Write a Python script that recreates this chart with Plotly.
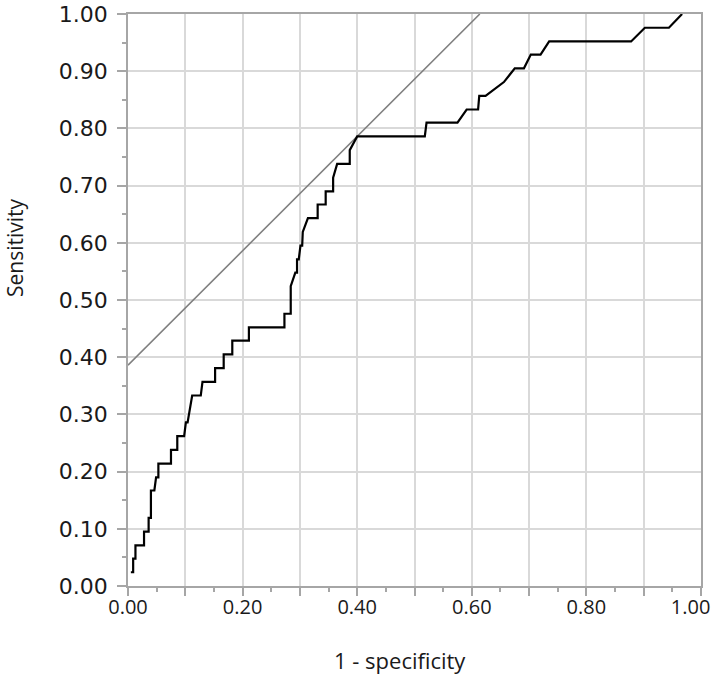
import plotly.graph_objects as go

# ROC curve vertices (1 - specificity, sensitivity)
fpr = [0.005, 0.009, 0.009, 0.013, 0.013, 0.028, 0.028, 0.036, 0.036, 0.040,
       0.040, 0.046, 0.049, 0.053, 0.053, 0.075, 0.075, 0.086, 0.086, 0.098,
       0.101, 0.104, 0.112, 0.127, 0.130, 0.152, 0.152, 0.167, 0.167, 0.182,
       0.182, 0.211, 0.211, 0.273, 0.273, 0.284, 0.284, 0.292, 0.295, 0.295,
       0.298, 0.301, 0.304, 0.305, 0.314, 0.331, 0.331, 0.345, 0.345, 0.358,
       0.358, 0.365, 0.387, 0.387, 0.400, 0.518, 0.521, 0.575, 0.591, 0.611,
       0.613, 0.624, 0.656, 0.675, 0.691, 0.703, 0.720, 0.735, 0.878, 0.902,
       0.944, 0.967]
tpr = [0.024, 0.024, 0.048, 0.048, 0.071, 0.071, 0.095, 0.095, 0.119, 0.119,
       0.167, 0.167, 0.190, 0.190, 0.214, 0.214, 0.238, 0.238, 0.262, 0.262,
       0.286, 0.286, 0.333, 0.333, 0.357, 0.357, 0.381, 0.381, 0.405, 0.405,
       0.429, 0.429, 0.452, 0.452, 0.476, 0.476, 0.524, 0.548, 0.548, 0.571,
       0.571, 0.595, 0.595, 0.619, 0.643, 0.643, 0.667, 0.667, 0.690, 0.690,
       0.714, 0.738, 0.738, 0.762, 0.786, 0.786, 0.810, 0.810, 0.833, 0.833,
       0.857, 0.857, 0.881, 0.905, 0.905, 0.929, 0.929, 0.952, 0.952, 0.976,
       0.976, 1.000]

# tangent line (slope 1) touching the curve at the optimal cut-off
tangent_x = [0.0, 0.614]
tangent_y = [0.386, 1.0]

x_ticks = [i / 10 for i in range(11)]
x_labels = [f"{v:.2f}" if i % 2 == 0 else "" for i, v in enumerate(x_ticks)]
x_labels[-1] = "1.00\u00a0\u00a0\u00a0\u00a0"  # nudge last label inside the page
y_ticks = [i / 10 for i in range(11)]
y_labels = [f"{v:.2f}" for v in y_ticks]

AXIS_GREY = "#a6a6a6"
GRID_GREY = "#d9d9d9"

fig = go.Figure()
fig.add_trace(go.Scatter(
    x=tangent_x, y=tangent_y, mode="lines",
    line=dict(color="#808080", width=1.6),
    showlegend=False, hoverinfo="skip",
))
fig.add_trace(go.Scatter(
    x=fpr, y=tpr, mode="lines",
    line=dict(color="black", width=2.2),
    showlegend=False,
))

fig.update_layout(
    width=714, height=678,
    margin=dict(l=128, r=13, t=14, b=92),
    paper_bgcolor="white", plot_bgcolor="white",
    xaxis=dict(
        range=[0, 1], tickvals=x_ticks, ticktext=x_labels, automargin=False,
        showgrid=True, gridcolor=GRID_GREY, gridwidth=1.5, zeroline=False,
        showline=True, linecolor=AXIS_GREY, linewidth=1.5, mirror=True,
        ticks="outside", ticklen=8, tickcolor=AXIS_GREY, tickwidth=1.5,
        minor=dict(dtick=0.05, ticks="outside", ticklen=4,
                   tickcolor=AXIS_GREY, tickwidth=1.5, showgrid=False),
        tickfont=dict(family="Open Sans", size=20, color="#1a1a1a"),
        ticklabeloverflow="allow", ticklabelstandoff=-6,
    ),
    yaxis=dict(
        range=[0, 1], tickvals=y_ticks, ticktext=y_labels, automargin=False,
        showgrid=True, gridcolor=GRID_GREY, gridwidth=1.5, zeroline=False,
        showline=True, linecolor=AXIS_GREY, linewidth=1.5, mirror=True,
        ticks="outside", ticklen=9, tickcolor=AXIS_GREY, tickwidth=1.5,
        minor=dict(dtick=0.05, ticks="outside", ticklen=4,
                   tickcolor=AXIS_GREY, tickwidth=1.5, showgrid=False),
        tickfont=dict(family="DejaVu Sans", size=22, color="#1a1a1a"),
        ticklabelstandoff=5, ticklabeloverflow="allow",
    ),
    annotations=[
        dict(text="1 - specificity", xref="paper", yref="paper",
             x=(400 - 128) / 573, y=-(660 - 586) / 572,
             xanchor="center", yanchor="middle", showarrow=False,
             font=dict(family="Open Sans", size=22, color="#1a1a1a")),
        dict(text="Sensitivity", xref="paper", yref="paper",
             x=-(128 - 15) / 573, y=(586 - 248) / 572, textangle=-90,
             xanchor="center", yanchor="middle", showarrow=False,
             font=dict(family="Open Sans", size=21, color="#1a1a1a")),
    ],
)

# drop the default 8px body margin so the figure fills the window exactly
fig.write_html("out.html", config={"displayModeBar": False},
               post_script="document.body.style.margin='0';")
